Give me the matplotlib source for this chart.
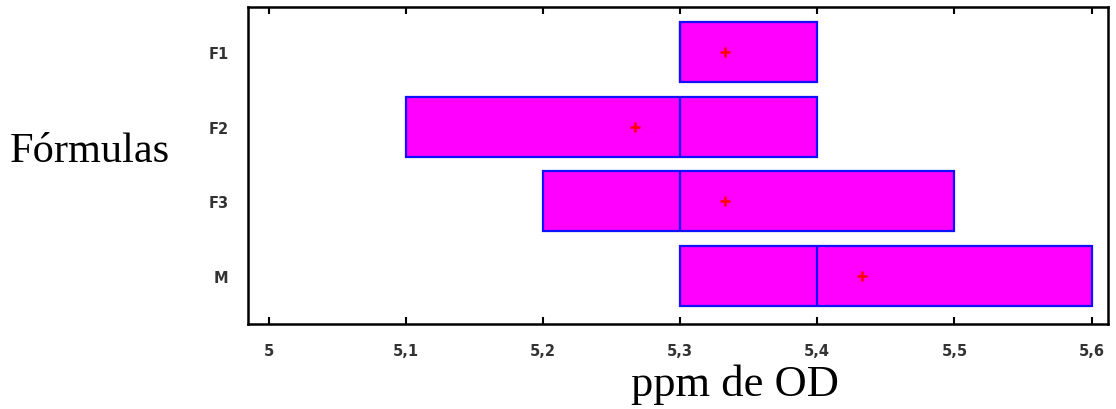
import matplotlib
matplotlib.use("Agg")
import matplotlib.pyplot as plt

groups = ["F1", "F2", "F3", "M"]
lows = [5.3, 5.1, 5.2, 5.3]
medians = [5.3, 5.3, 5.3, 5.4]
highs = [5.4, 5.4, 5.5, 5.6]
means = [5.333, 5.267, 5.333, 5.433]
xticks = [5.0, 5.1, 5.2, 5.3, 5.4, 5.5, 5.6]
xlabels = ["5", "5,1", "5,2", "5,3", "5,4", "5,5", "5,6"]

stats = []
for g, lo, md, hi, mn in zip(groups, lows, medians, highs, means):
    stats.append(dict(label=g, whislo=lo, q1=lo, med=md, q3=hi, whishi=hi, mean=mn, fliers=[]))

fig = plt.figure(figsize=(11.16, 4.1), dpi=100)
ax = fig.add_axes([248/1116, 1-325/410, 860/1116, 317/410])

ax.bxp(stats, positions=range(1, 5), vert=False, widths=0.8, patch_artist=True,
       showmeans=True, showcaps=False,
       boxprops=dict(facecolor="#ff00ff", edgecolor="#1010ff", linewidth=1.6),
       medianprops=dict(color="#1010ff", linewidth=1.6),
       whiskerprops=dict(linewidth=0),
       meanprops=dict(marker="+", markeredgecolor="red", markersize=7, markeredgewidth=1.8))

ax.set_xlim(4.985, 5.612)
ax.set_ylim(4.64, 0.4)
ax.set_xticks(xticks)
ax.set_xticklabels(xlabels)
ax.set_yticks(range(1, 5))
ax.set_yticklabels(groups)
ax.tick_params(axis="x", direction="in", top=True, length=5, width=1.5, pad=14,
               labelsize=10.5, labelcolor="#333333")
ax.tick_params(axis="y", length=0, pad=14, labelsize=10.5, labelcolor="#333333")
for lab in ax.get_xticklabels() + ax.get_yticklabels():
    lab.set_family(["Liberation Sans Narrow", "DejaVu Sans"])
    lab.set_fontweight("bold")
for s in ax.spines.values():
    s.set_linewidth(1.8)

fig.text(10/1116, 1-152/410, "Fórmulas", family="Liberation Serif", fontsize=30.5,
         ha="left", va="center")
fig.text(735/1116, 1-385/410, "ppm de OD", family="Liberation Serif", fontsize=32,
         ha="center", va="center")

fig.savefig("out.png", dpi=100)
